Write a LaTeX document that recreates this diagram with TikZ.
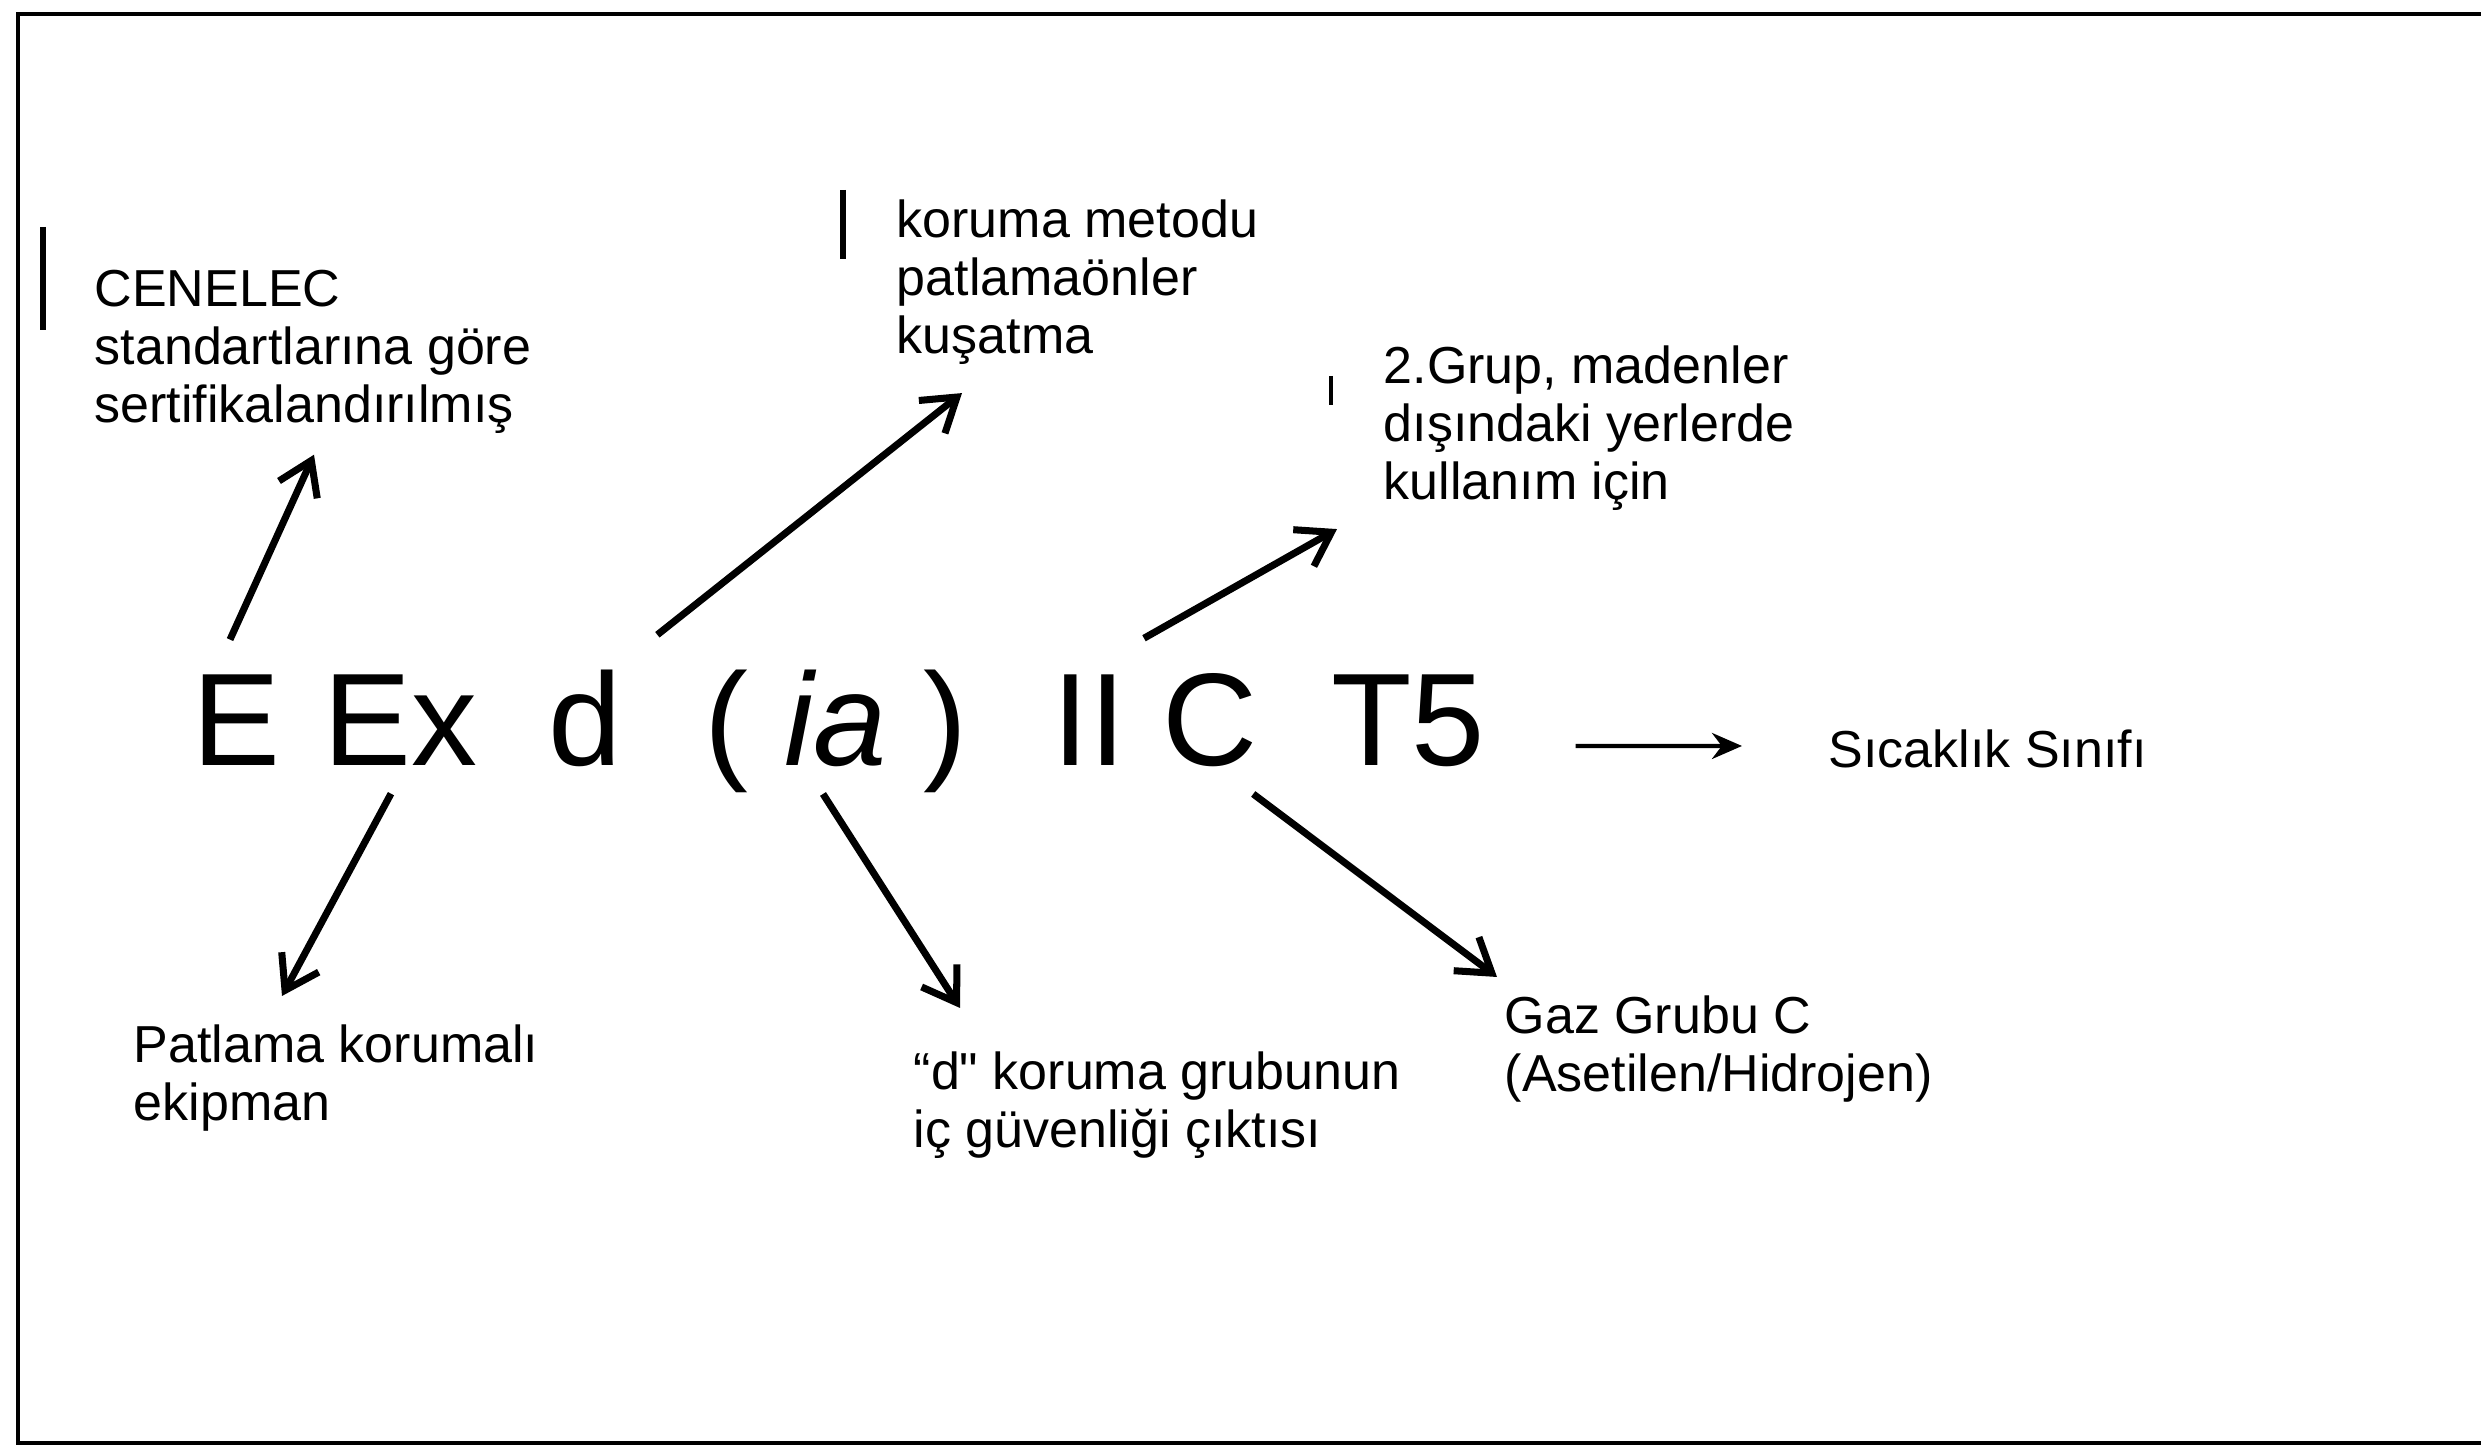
\documentclass[tikz,border=0pt]{standalone}
\usepackage{fontspec}
\setmainfont{Liberation Sans}
\usetikzlibrary{arrows.meta}

\begin{document}
\begin{tikzpicture}[
  lbl/.style={align=left,inner sep=0pt,anchor=north west,font=\fontsize{14.8}{16.5}\selectfont},
  big/.style={anchor=base,inner sep=0pt,font=\fontsize{37.5}{40}\selectfont},
  arr/.style={line width=2pt,-{Straight Barb[length=3.2mm,width=4.2mm]}},
  thinarr/.style={line width=1.2pt,-{Stealth[length=3mm,width=2.6mm]}}]
  \useasboundingbox (0,0) rectangle (24.81,14.53);
  \draw[line width=0.9pt] (25,14.39) -- (0.18,14.39) -- (0.18,0.10) -- (25,0.10);
  \draw[line width=1.6pt] (0.43,12.26) -- (0.43,11.23);
  \draw[line width=1.6pt] (8.43,12.63) -- (8.43,11.94);
  \draw[line width=1.2pt] (13.31,10.77) -- (13.31,10.48);

  % the marking
  \node[big] (eE) at (2.36,6.87) {E};
  \node[big] (eEx) at (4.00,6.87) {Ex};
  \node[big] (eD) at (5.85,6.87) {d};
  \node[big] (eIA) at (8.36,6.87) {( \textit{ia} )};
  \node[big] (eIIC) at (11.55,6.87) {II C};
  \node[big] (eT) at (14.08,6.87) {T5};

  % the explanations
  \node[lbl] (cenelec) at (0.94,11.83) {CENELEC\\standartlarına göre\\sertifikalandırılmış};
  \node[lbl] (koruma) at (8.96,12.54) {koruma metodu\\patlamaönler\\kuşatma};
  \node[lbl] (grup) at (13.83,11.08) {2.Grup, madenler\\dışındaki yerlerde\\kullanım için};
  \node[lbl] (patlama) at (1.33,4.29) {Patlama korumalı\\ekipman};
  \node[lbl] (dkoruma) at (9.13,4.02) {“d\textquotedbl{} koruma grubunun\\iç güvenliği çıktısı};
  \node[lbl] (gaz) at (15.04,4.58) {Gaz Grubu C\\(Asetilen/Hidrojen)};
  \node[lbl,anchor=base west] (sicaklik) at (18.28,6.85) {Sıcaklık Sınıfı};

  \draw[arr] ([xshift=-0.6mm,yshift=3.5mm]eE.north) -- ([xshift=22mm,yshift=-2mm]cenelec.south west);
  \draw[arr] ([xshift=-0.9mm,yshift=-2.7mm]eEx.south) -- ([xshift=14.9mm,yshift=2.8mm]patlama.north west);
  \draw[arr] ([xshift=3.5mm,yshift=3.5mm]eD.north east) -- ([xshift=6.6mm,yshift=-2.8mm]koruma.south west);
  \draw[arr] ([xshift=-1.3mm]eIA.south) -- ([xshift=4.7mm,yshift=4.3mm]dkoruma.north west);
  \draw[arr] ([xshift=-1.1mm,yshift=3.5mm]eIIC.north) -- ([xshift=-4.6mm,yshift=-1.8mm]grup.south west);
  \draw[arr] ([xshift=-0.5mm,yshift=-2.6mm]eIIC.south east) -- ([xshift=-0.7mm,yshift=1.8mm]gaz.north west);
  \draw[thinarr] ([xshift=9mm,yshift=2mm]eT.base east) -- ([xshift=-8.6mm,yshift=2.2mm]sicaklik.base west);
\end{tikzpicture}
\end{document}
